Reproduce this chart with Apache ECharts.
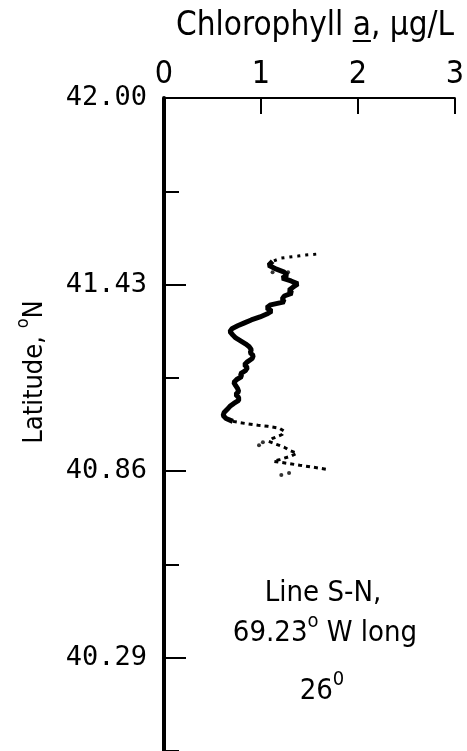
<!DOCTYPE html>
<html>
<head>
<meta charset="utf-8">
<script src="https://cdn.jsdelivr.net/npm/echarts@6/dist/echarts.min.js"></script>
<style>
html, body { margin: 0; padding: 0; background: #fff; }
#chart { width: 467px; height: 751px; }
</style>
</head>
<body>
<div id="chart"></div>
<script>
// axis ticks
const latTicks = [42.00, 41.715, 41.43, 41.145, 40.86, 40.575, 40.29, 40.005]
const latLabels = [42.00, 41.43, 40.86, 40.29]

// north end of the trace (dotted)
const latTop = [41.523, 41.520, 41.517, 41.514, 41.511, 41.501]
const chlTop = [1.57, 1.46, 1.38, 1.29, 1.21, 1.12]

// main trace
const latMain = [41.501, 41.489, 41.477, 41.468, 41.459, 41.450, 41.441, 41.432, 41.422, 41.413,
  41.404, 41.395, 41.386, 41.377, 41.368, 41.359, 41.349, 41.340, 41.331, 41.322,
  41.313, 41.304, 41.295, 41.286, 41.276, 41.267, 41.258, 41.249, 41.240, 41.231,
  41.222, 41.213, 41.204, 41.194, 41.185, 41.176, 41.167, 41.158, 41.149, 41.140,
  41.131, 41.121, 41.112, 41.103, 41.094, 41.085, 41.076, 41.067, 41.058, 41.048,
  41.039, 41.030, 41.021, 41.012]
const chlMain = [1.12, 1.08, 1.16, 1.24, 1.27, 1.22, 1.31, 1.38, 1.33, 1.29,
  1.32, 1.24, 1.22, 1.24, 1.10, 1.06, 1.11, 1.06, 0.99, 0.90,
  0.83, 0.76, 0.70, 0.68, 0.71, 0.74, 0.79, 0.84, 0.88, 0.90,
  0.89, 0.92, 0.91, 0.86, 0.83, 0.86, 0.84, 0.79, 0.80, 0.75,
  0.72, 0.74, 0.76, 0.77, 0.74, 0.77, 0.77, 0.72, 0.68, 0.65,
  0.62, 0.61, 0.64, 0.71]

// south end of the trace (dotted)
const latBottom = [41.012, 41.006, 41.000, 40.997, 40.991, 40.982, 40.972, 40.960, 40.951, 40.942,
  40.933, 40.924, 40.915, 40.906, 40.896, 40.890, 40.884, 40.878, 40.872, 40.866]
const chlBottom = [0.71, 0.83, 0.97, 1.07, 1.19, 1.24, 1.22, 1.12, 1.08, 1.16,
  1.24, 1.29, 1.37, 1.31, 1.20, 1.13, 1.27, 1.40, 1.54, 1.67]

// stray dots
const latDots = [40.848, 40.854, 40.939, 40.948, 41.468, 41.468]
const chlDots = [1.21, 1.29, 0.98, 1.02, 1.12, 1.28]

const narrow = "'DejaVu Sans Condensed', 'DejaVu Sans', sans-serif"
const mono = "'DejaVu Sans Mono', monospace"

const pairs = (xs, ys) => xs.map((v, i) => [v, ys[i]])

// title pieces, measured so the underline sits under the "a"
const titleFont = '33px ' + narrow
const measure = document.createElement('canvas').getContext('2d')
measure.font = titleFont
const wPre = measure.measureText('Chlorophyll ').width
const wA = measure.measureText('a').width
const wAll = measure.measureText('Chlorophyll a, μg/L').width
const titleLeft = 315 - wAll / 2

const sup = {
  t: { fontFamily: narrow, fontSize: 29, lineHeight: 36, verticalAlign: 'bottom' },
  s: { fontFamily: narrow, fontSize: 20, lineHeight: 36, verticalAlign: 'top' }
}

const myChart = echarts.init(document.getElementById('chart'))
myChart.setOption({
  animation: false,
  backgroundColor: '#fff',
  grid: {
    left: 164,
    top: 98,
    width: 291,
    height: 655
  },
  xAxis: {
    type: 'value',
    position: 'top',
    min: 0,
    max: 3,
    interval: 1,
    axisLine: { lineStyle: { color: '#000', width: 2 } },
    axisTick: { inside: true, length: 16, lineStyle: { color: '#000', width: 2 } },
    axisLabel: { color: '#000', fontFamily: narrow, fontSize: 32, margin: 7 },
    splitLine: { show: false }
  },
  yAxis: [
    {
      type: 'value',
      min: 40.005,
      max: 42,
      axisLine: { lineStyle: { color: '#000', width: 4 } },
      axisTick: { inside: true, length: 15, customValues: latTicks, lineStyle: { color: '#000', width: 2 } },
      axisLabel: { show: false },
      splitLine: { show: false }
    },
    {
      type: 'value',
      position: 'left',
      min: 40.005,
      max: 42,
      axisLine: { show: false },
      axisTick: { inside: true, length: 22, customValues: latLabels, lineStyle: { color: '#000', width: 2 } },
      axisLabel: {
        customValues: latLabels,
        formatter: v => v.toFixed(2),
        color: '#000',
        fontFamily: mono,
        fontSize: 27,
        margin: 17
      },
      splitLine: { show: false }
    }
  ],
  series: [
    {
      type: 'line',
      data: pairs(chlTop, latTop),
      showSymbol: false,
      lineStyle: { color: '#000', width: 3, type: [3, 5] }
    },
    {
      type: 'line',
      data: pairs(chlMain, latMain),
      showSymbol: false,
      lineStyle: { color: '#000', width: 5 }
    },
    {
      type: 'line',
      data: pairs(chlBottom, latBottom),
      showSymbol: false,
      lineStyle: { color: '#000', width: 3, type: [4, 4] }
    },
    {
      type: 'scatter',
      data: pairs(chlDots, latDots),
      symbolSize: 4,
      itemStyle: { color: '#000' }
    }
  ],
  graphic: [
    {
      type: 'text',
      x: titleLeft,
      y: 26,
      style: {
        text: 'Chlorophyll a, μg/L',
        font: titleFont,
        fill: '#000',
        align: 'left',
        verticalAlign: 'middle'
      }
    },
    {
      type: 'rect',
      shape: { x: titleLeft + wPre, y: 40, width: wA, height: 2 },
      style: { fill: '#000' }
    },
    {
      type: 'text',
      x: 31,
      y: 372,
      rotation: Math.PI / 2,
      style: {
        text: '{t|Latitude, }{s|o}{t|N}',
        fill: '#000',
        align: 'center',
        verticalAlign: 'middle',
        rich: {
          t: { fontFamily: narrow, fontSize: 27, lineHeight: 34, verticalAlign: 'bottom' },
          s: { fontFamily: narrow, fontSize: 18, lineHeight: 34, verticalAlign: 'top' }
        }
      }
    },
    {
      type: 'text',
      x: 323,
      y: 593,
      style: {
        text: 'Line S-N,',
        font: '29px ' + narrow,
        fill: '#000',
        align: 'center',
        verticalAlign: 'middle'
      }
    },
    {
      type: 'text',
      x: 325,
      y: 630,
      style: {
        text: '{t|69.23}{s|o}{t| W long}',
        fill: '#000',
        align: 'center',
        verticalAlign: 'middle',
        rich: sup
      }
    },
    {
      type: 'text',
      x: 322,
      y: 688,
      style: {
        text: '{t|26}{s|0}',
        fill: '#000',
        align: 'center',
        verticalAlign: 'middle',
        rich: sup
      }
    }
  ]
})
window.addEventListener('resize', () => {
  myChart.resize()
})
</script>
</body>
</html>
